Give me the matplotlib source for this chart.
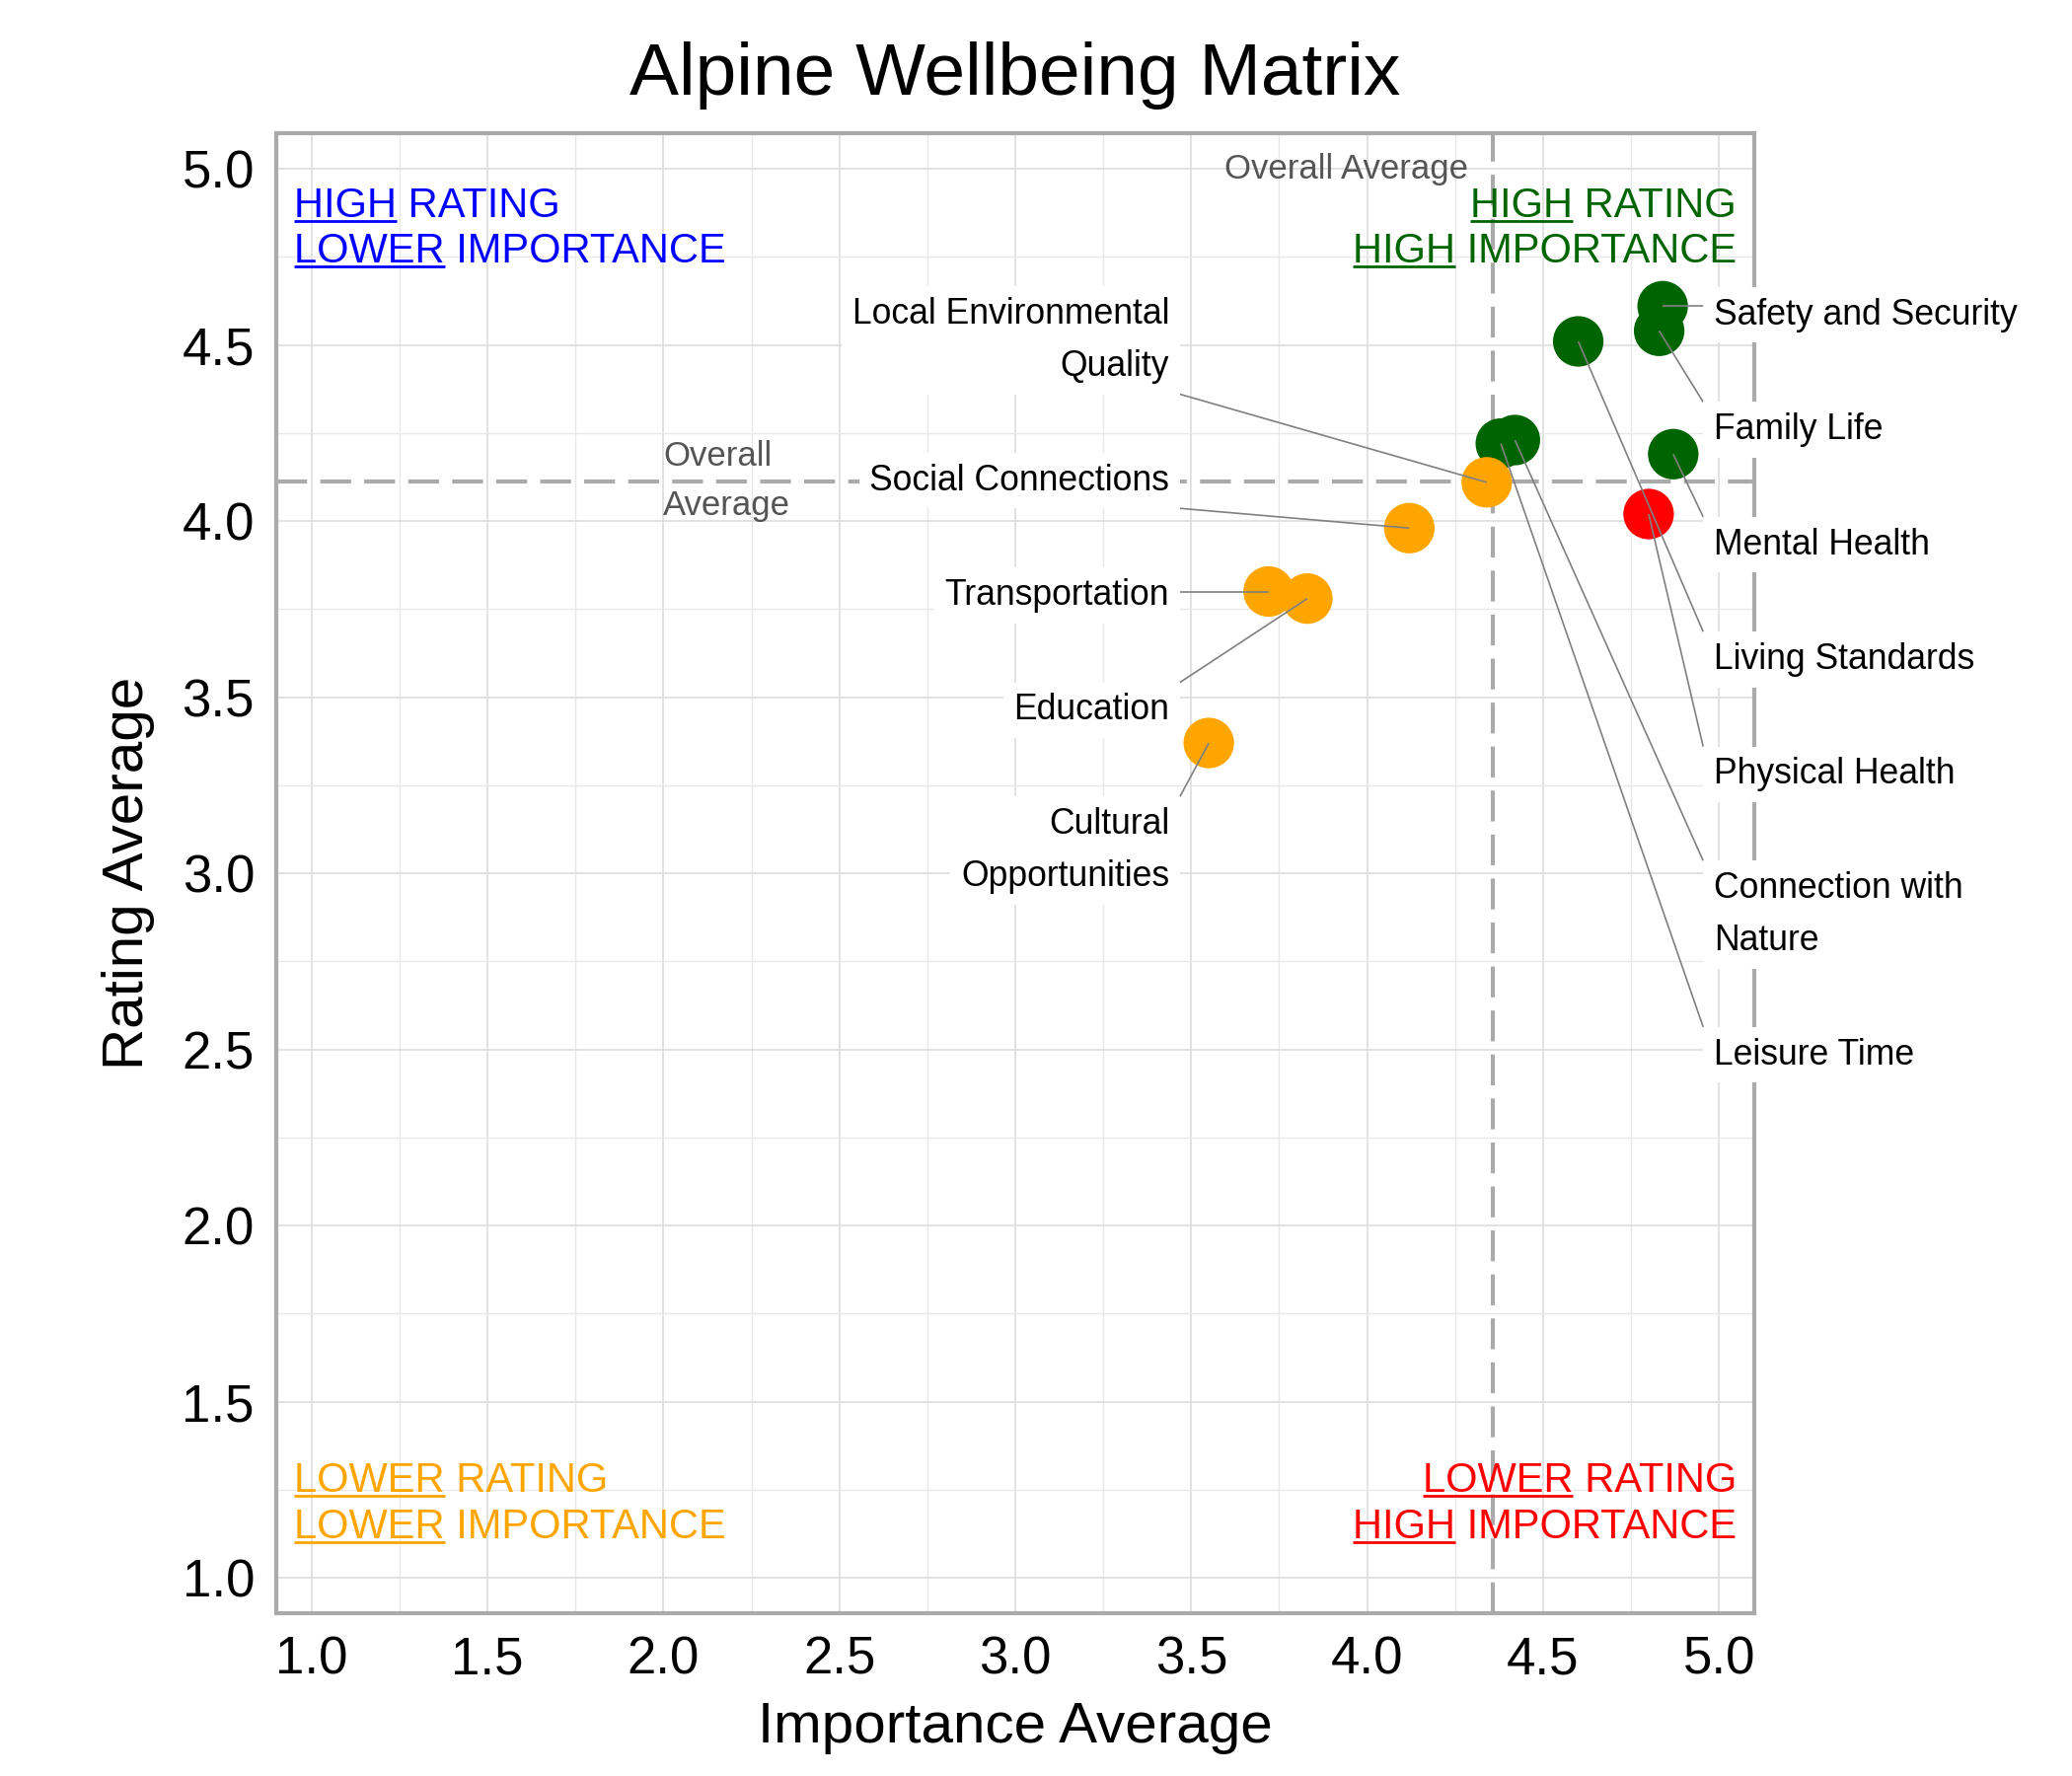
import numpy as np
import matplotlib
matplotlib.use("Agg")
import matplotlib.pyplot as plt

plt.rcParams['font.family'] = ['Liberation Sans', 'DejaVu Sans']

# ---------------- data ----------------
categories = [
    "Safety and Security", "Family Life", "Mental Health", "Living Standards",
    "Physical Health", "Connection with\nNature", "Leisure Time",
    "Local Environmental\nQuality", "Social Connections", "Transportation",
    "Education", "Cultural\nOpportunities",
]
importance = [4.84, 4.83, 4.87, 4.60, 4.80, 4.42, 4.38, 4.34, 4.12, 3.72, 3.83, 3.55]
rating = [4.61, 4.54, 4.19, 4.51, 4.02, 4.23, 4.22, 4.11, 3.98, 3.80, 3.78, 3.37]

title = "Alpine Wellbeing Matrix"
x_label = "Importance Average"
y_label = "Rating Average"
tick_values = [1.0, 1.5, 2.0, 2.5, 3.0, 3.5, 4.0, 4.5, 5.0]

quad_colors = {"HH": "#006400", "HL": "#FF0000", "LH": "#0000FF", "LL": "#FFA500"}

imp = np.array(importance)
rat = np.array(rating)
avg_x = imp.mean()
avg_y = rat.mean()

colors = []
for xv, yv in zip(imp, rat):
    key = ("H" if xv >= avg_x else "L") + ("H" if yv >= avg_y else "L")
    colors.append(quad_colors[key])

# ---------------- figure ----------------
fig = plt.figure(figsize=(10.5, 9), dpi=200)
ax = fig.add_axes([0.1334, 0.0917, 0.7132, 0.8331])
ax.set_xlim(0.9, 5.1)
ax.set_ylim(0.9, 5.1)

ax.set_xticks(tick_values)
ax.set_yticks(tick_values)
ax.set_xticklabels([f"{v:.1f}" for v in tick_values])
ax.set_yticklabels([f"{v:.1f}" for v in tick_values])
ax.set_xticks(np.arange(1.25, 5.0, 0.5), minor=True)
ax.set_yticks(np.arange(1.25, 5.0, 0.5), minor=True)
ax.tick_params(which='both', length=0, labelsize=19, pad=8)
ax.grid(which='major', color='#dddddd', lw=0.6, zorder=0)
ax.grid(which='minor', color='#e8e8e8', lw=0.5, zorder=0)
ax.set_axisbelow(True)
for s in ax.spines.values():
    s.set_color('#aaaaaa')
    s.set_linewidth(1.5)

ax.set_title(title, fontsize=27, pad=14)
ax.set_xlabel(x_label, fontsize=21, labelpad=6)
ax.set_ylabel(y_label, fontsize=21, labelpad=10)

# average lines
ax.axvline(avg_x, color='#aaaaaa', lw=1.5, ls=(0, (7.5, 3.2)), zorder=1)
ax.axhline(avg_y, color='#aaaaaa', lw=1.5, ls=(0, (7.5, 3.2)), zorder=1)
ax.text(avg_x - 0.07, 5.0, "Overall Average", ha='right', va='center',
        fontsize=12.5, color='#555555', zorder=2)
ax.text(2.0, avg_y, "Overall\nAverage", ha='left', va='center',
        fontsize=12.5, color='#555555', linespacing=1.66, zorder=2)

# points
ax.scatter(imp, rat, s=340, c=colors, edgecolors='none', zorder=3)

# labels (repel-like stacked layout)
LS = 1.66
step = 0.326
line_gap = 0.144
top_first = 4.585
texts = []
first_line = {"R": top_first, "L": top_first}
for name, xv, yv in zip(categories, imp, rat):
    side = "R" if xv >= avg_x else "L"
    n = name.count("\n") + 1
    fl = first_line[side]
    cy = fl - line_gap * (n - 1) / 2
    if side == "R":
        t = ax.text(4.985, cy, name, ha='left', va='center', fontsize=12.8,
                    linespacing=LS, zorder=5,
                    bbox=dict(boxstyle='square,pad=0.3', fc='white', ec='none'))
    else:
        t = ax.text(3.438, cy, name, ha='right', va='center', fontsize=12.8,
                    linespacing=LS, multialignment='right', zorder=5,
                    bbox=dict(boxstyle='square,pad=0.3', fc='white', ec='none'))
    texts.append((t, xv, yv))
    first_line[side] = fl - step - line_gap * (n - 1)

fig.canvas.draw()
renderer = fig.canvas.get_renderer()
inv = ax.transData.inverted()
for t, xv, yv in texts:
    bb = t.get_bbox_patch().get_window_extent(renderer)
    px, py = ax.transData.transform((xv, yv))
    cx = min(max(px, bb.x0), bb.x1)
    cy = min(max(py, bb.y0), bb.y1)
    ex, ey = inv.transform((cx, cy))
    ax.plot([xv, ex], [yv, ey], color='#808080', lw=0.6, zorder=4,
            solid_capstyle='butt', clip_on=False)

# quadrant annotations with underlined first word
def quad_text(x, y, first, rest, color, ha):
    full = first + " " + rest
    t = ax.text(x, y, full, ha=ha, va='baseline', fontsize=15, color=color, zorder=2)
    fig.canvas.draw()
    bb = t.get_window_extent(renderer)
    tmp = ax.text(0, 0, first, fontsize=15)
    wb = tmp.get_window_extent(renderer)
    tmp.remove()
    _, by = ax.transData.transform((x, y))
    uy = by - 4
    x0 = bb.x0
    x1 = bb.x0 + wb.width
    (dx0, dy), (dx1, _) = inv.transform([(x0, uy), (x1, uy)])
    ax.plot([dx0, dx1], [dy, dy], color=color, lw=1.0, zorder=2,
            solid_capstyle='butt')

quad_text(0.95, 4.864, "HIGH", "RATING", quad_colors["LH"], 'left')
quad_text(0.95, 4.735, "LOWER", "IMPORTANCE", quad_colors["LH"], 'left')
quad_text(5.05, 4.864, "HIGH", "RATING", quad_colors["HH"], 'right')
quad_text(5.05, 4.735, "HIGH", "IMPORTANCE", quad_colors["HH"], 'right')
quad_text(0.95, 1.243, "LOWER", "RATING", quad_colors["LL"], 'left')
quad_text(0.95, 1.114, "LOWER", "IMPORTANCE", quad_colors["LL"], 'left')
quad_text(5.05, 1.243, "LOWER", "RATING", quad_colors["HL"], 'right')
quad_text(5.05, 1.114, "HIGH", "IMPORTANCE", quad_colors["HL"], 'right')

ax.set_xlim(0.9, 5.1)
ax.set_ylim(0.9, 5.1)
fig.savefig("out.png", dpi=200)
